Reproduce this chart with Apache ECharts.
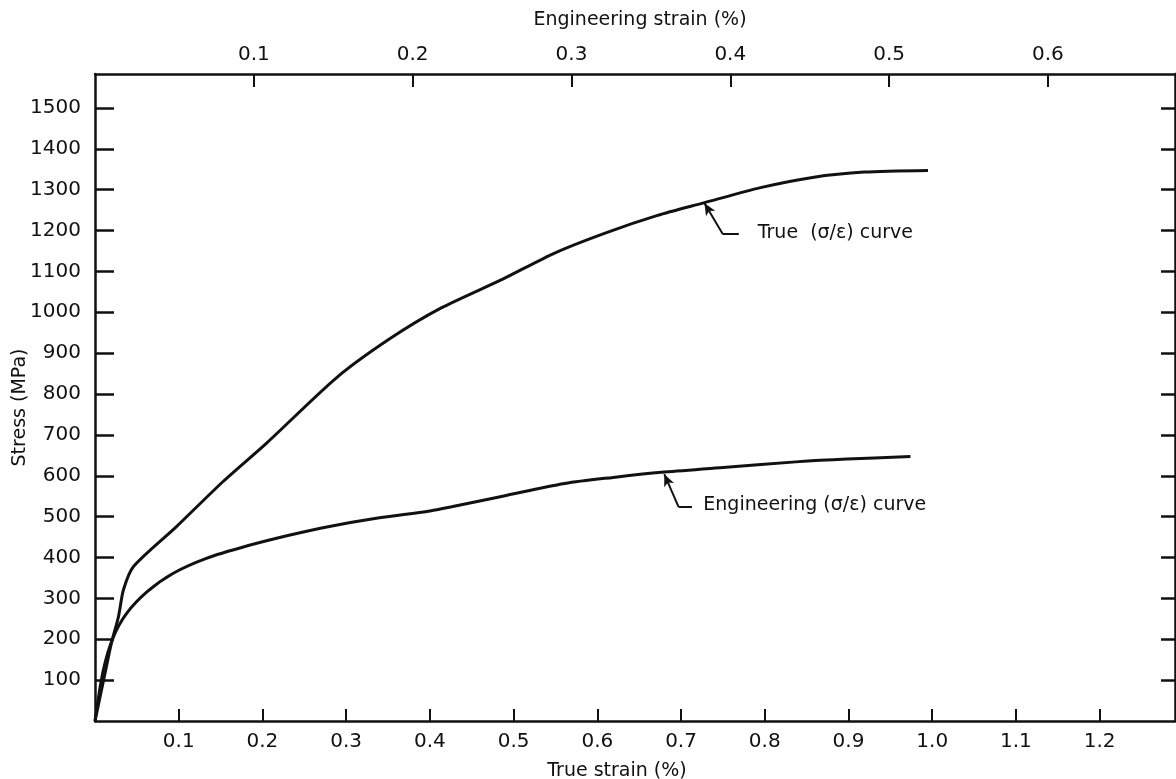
<!DOCTYPE html>
<html>
<head>
<meta charset="utf-8">
<script src="https://cdn.jsdelivr.net/npm/echarts@6/dist/echarts.min.js"></script>
<style>
  html, body { margin: 0; padding: 0; background: #ffffff; }
  #chart { width: 1176px; height: 779px; }
</style>
</head>
<body>
<div id="chart"></div>
<script>
// ---- data ----
const stressTicks = [100, 200, 300, 400, 500, 600, 700, 800, 900, 1000, 1100, 1200, 1300, 1400, 1500];
const trueStrainTicks = [0.1, 0.2, 0.3, 0.4, 0.5, 0.6, 0.7, 0.8, 0.9, 1.0, 1.1, 1.2];
const engStrainTicks = [0.1, 0.2, 0.3, 0.4, 0.5, 0.6];

const trueCurveStrain = [0, 0.012, 0.020, 0.028, 0.034, 0.046, 0.097, 0.153, 0.205, 0.288, 0.352, 0.413, 0.487, 0.549, 0.611, 0.672, 0.726, 0.795, 0.857, 0.919, 0.995];
const trueCurveStress = [0, 117, 194, 255, 321, 378, 475, 586, 680, 839, 935, 1010, 1081, 1145, 1195, 1237, 1267, 1305, 1330, 1343, 1347];

const engCurveStrain = [0, 0.010, 0.022, 0.038, 0.062, 0.093, 0.133, 0.181, 0.233, 0.280, 0.336, 0.400, 0.426, 0.487, 0.561, 0.619, 0.680, 0.754, 0.837, 0.898, 0.974];
const engCurveStress = [0, 125, 206, 264, 316, 361, 398, 428, 455, 476, 496, 514, 524, 550, 581, 596, 609, 621, 634, 641, 647];

// annotation leaders: [arrow tip, elbow, end], and label anchor
const trueNoteX = [0.728, 0.750, 0.769];
const trueNoteY = [1267, 1191, 1191];
const trueLabelPos = [0.791, 1194];
const engNoteX = [0.680, 0.697, 0.713];
const engNoteY = [604, 524, 524];
const engLabelPos = [0.726, 529];
const noteTexts = ['True  (σ/ε) curve', 'Engineering (σ/ε) curve'];

const axisNames = ['True strain (%)', 'Engineering strain (%)', 'Stress (MPa)'];

// ---- build ----
const ink = '#111111';
const FONT = 'DejaVu Sans';
const zip = (a, b) => a.map((v, i) => [v, b[i]]);

function leader(xs, ys) {
  return [
    [{ coord: [xs[2], ys[2]], symbol: 'none' }, { coord: [xs[1], ys[1]], symbol: 'none' }],
    [{ coord: [xs[1], ys[1]], symbol: 'none' }, { coord: [xs[0], ys[0]], symbol: 'arrow', symbolSize: [8, 12] }]
  ];
}
function noteLabel(pos, text) {
  return {
    coord: pos, symbol: 'rect', symbolSize: 1,
    itemStyle: { color: 'rgba(0,0,0,0)' },
    label: { show: true, position: 'right', distance: 0, formatter: text, color: ink, fontSize: 19, fontFamily: FONT }
  };
}

const chart = echarts.init(document.getElementById('chart'), null, { renderer: 'canvas' });
const lbl = { color: ink, fontSize: 20, fontFamily: FONT };
const nameStyle = { color: ink, fontSize: 19, fontFamily: FONT };

chart.setOption({
  animation: false,
  backgroundColor: '#ffffff',
  textStyle: { fontFamily: FONT, color: ink },
  grid: { left: 95, right: 1, top: 74, bottom: 58, containLabel: false, outerBoundsMode: 'none' },
  xAxis: [
    {
      type: 'value', position: 'bottom', min: 0, max: 1.29,
      name: axisNames[0], nameLocation: 'middle', nameGap: 41, nameMoveOverlap: false,
      nameTextStyle: { ...nameStyle, padding: [0, 36, 0, 0] },
      axisLine: { show: true, onZero: false, lineStyle: { color: ink, width: 2.5 } },
      axisTick: { show: true, inside: true, length: 12, customValues: trueStrainTicks, lineStyle: { color: ink, width: 2 } },
      axisLabel: { show: true, margin: 11, customValues: trueStrainTicks, formatter: v => v.toFixed(1), ...lbl },
      splitLine: { show: false }
    },
    {
      type: 'value', position: 'top', min: 0, max: 0.68,
      name: axisNames[1], nameLocation: 'middle', nameGap: 44, nameMoveOverlap: false,
      nameTextStyle: { ...nameStyle, padding: [0, 0, 0, 10] },
      axisLine: { show: true, onZero: false, lineStyle: { color: ink, width: 2.5 } },
      axisTick: { show: true, inside: true, length: 13, customValues: engStrainTicks, lineStyle: { color: ink, width: 2 } },
      axisLabel: { show: true, margin: 9, customValues: engStrainTicks, formatter: v => v.toFixed(1), ...lbl },
      splitLine: { show: false }
    }
  ],
  yAxis: [
    {
      type: 'value', position: 'left', min: 0, max: 1583,
      name: axisNames[2], nameLocation: 'middle', nameGap: 65, nameMoveOverlap: false,
      nameTextStyle: { ...nameStyle, padding: [0, 20, 0, 0] },
      axisLine: { show: true, onZero: false, lineStyle: { color: ink, width: 2.5 } },
      axisTick: { show: true, inside: true, length: 19, customValues: stressTicks, lineStyle: { color: ink, width: 2.5 } },
      axisLabel: { show: true, margin: 14, customValues: stressTicks, formatter: v => String(Math.round(v)), ...lbl },
      splitLine: { show: false }
    },
    {
      type: 'value', position: 'right', min: 0, max: 1583,
      axisLine: { show: true, onZero: false, lineStyle: { color: ink, width: 2.5 } },
      axisTick: { show: true, inside: true, length: 14, customValues: stressTicks, lineStyle: { color: ink, width: 2.5 } },
      axisLabel: { show: false },
      splitLine: { show: false }
    }
  ],
  series: [
    {
      name: 'True', type: 'line', xAxisIndex: 0, yAxisIndex: 0,
      data: zip(trueCurveStrain, trueCurveStress),
      showSymbol: false, smooth: 0.25,
      lineStyle: { color: ink, width: 3 },
      markLine: { silent: true, animation: false, lineStyle: { color: ink, width: 2, type: 'solid' }, label: { show: false }, data: leader(trueNoteX, trueNoteY) },
      markPoint: { silent: true, animation: false, data: [noteLabel(trueLabelPos, noteTexts[0])] }
    },
    {
      name: 'Engineering', type: 'line', xAxisIndex: 0, yAxisIndex: 0,
      data: zip(engCurveStrain, engCurveStress),
      showSymbol: false, smooth: 0.3,
      lineStyle: { color: ink, width: 3 },
      markLine: { silent: true, animation: false, lineStyle: { color: ink, width: 2, type: 'solid' }, label: { show: false }, data: leader(engNoteX, engNoteY) },
      markPoint: { silent: true, animation: false, data: [noteLabel(engLabelPos, noteTexts[1])] }
    }
  ]
});
</script>
</body>
</html>
